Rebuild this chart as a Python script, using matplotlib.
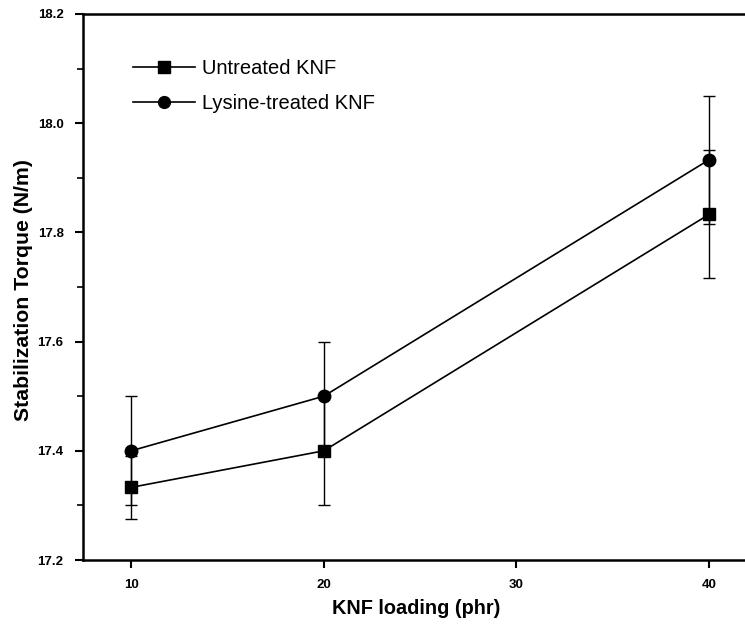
import matplotlib.pyplot as plt
from matplotlib.lines import Line2D
from matplotlib.ticker import MultipleLocator

# KNF loading (phr)
loading = [10, 20, 40]

# Stabilization torque (N/m) and error bars
untreated = [17.333, 17.40, 17.833]
untreated_err = [0.058, 0.10, 0.117]
lysine = [17.40, 17.50, 17.933]
lysine_err = [0.10, 0.10, 0.117]

plt.rcParams['font.family'] = ['Liberation Sans', 'DejaVu Sans']

fig = plt.figure(figsize=(7.45, 6.32), dpi=100)
ax = fig.add_axes([0.1114, 0.1139, 0.905, 0.864])

ax.errorbar(loading, untreated, yerr=untreated_err, color='black', marker='s',
            markersize=8.5, linewidth=1.2, elinewidth=1.0, capsize=4.5, capthick=1.0)
ax.errorbar(loading, lysine, yerr=lysine_err, color='black', marker='o',
            markersize=9, linewidth=1.2, elinewidth=1.0, capsize=4.5, capthick=1.0)

ax.set_xlim(7.5, 42.5)
ax.set_ylim(17.2, 18.2)
ax.set_xticks([10, 20, 30, 40])
ax.yaxis.set_major_locator(MultipleLocator(0.2))
ax.yaxis.set_minor_locator(MultipleLocator(0.1))
ax.yaxis.set_major_formatter(plt.FormatStrFormatter('%.1f'))

ax.tick_params(axis='both', which='major', direction='out', length=6, width=1.5,
               labelsize=9.5, pad=8)
ax.tick_params(axis='y', which='minor', direction='out', length=4, width=1.2)
for lbl in ax.get_xticklabels() + ax.get_yticklabels():
    lbl.set_fontweight('bold')

for side in ['left', 'bottom', 'top']:
    ax.spines[side].set_linewidth(1.8)
ax.spines['right'].set_visible(False)

ax.set_xlabel('KNF loading (phr)', fontsize=14.3, fontweight='bold')
ax.set_ylabel('Stabilization Torque (N/m)', fontsize=15.3, fontweight='bold')
ax.xaxis.set_label_coords(0.494, -0.072)
ax.yaxis.set_label_coords(-0.074, 0.494)

handles = [
    Line2D([0], [0], color='black', marker='s', markersize=8, linewidth=1.2),
    Line2D([0], [0], color='black', marker='o', markersize=8.5, linewidth=1.2),
]
ax.legend(handles, ['Untreated KNF', 'Lysine-treated KNF'], loc='upper left',
          bbox_to_anchor=(0.0476, 0.951), frameon=False, fontsize=14.5,
          handlelength=3.05, labelspacing=0.78, handletextpad=0.35, numpoints=1)

fig.savefig('out.png', dpi=100)
